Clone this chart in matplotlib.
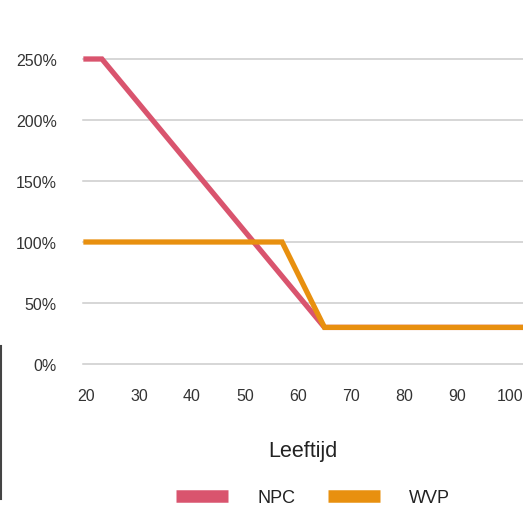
import matplotlib
matplotlib.use("Agg")
import matplotlib.pyplot as plt
from matplotlib.lines import Line2D

# data
npc_age = [20, 23, 65, 110]
npc_pct = [250, 250, 30, 30]
wvp_age = [20, 57, 65, 110]
wvp_pct = [100, 100, 30, 30]

y_ticks = [0, 50, 100, 150, 200, 250]
x_ticks = [20, 30, 40, 50, 60, 70, 80, 90, 100]

NPC_COLOR = '#D9546E'
WVP_COLOR = '#E8900F'
TEXT_COLOR = '#333333'

plt.rcParams['font.family'] = ['Liberation Sans', 'DejaVu Sans']

W, H = 523, 510
fig = plt.figure(figsize=(W / 100, H / 100), dpi=100)

# axes run past the right edge, like the cropped original
ax = fig.add_axes([86 / W, (H - 365) / H, 477 / W, 305 / H])
ax.set_xlim(20, 110)
ax.set_ylim(0, 250)

ax.plot(npc_age, npc_pct, color=NPC_COLOR, linewidth=3.8,
        solid_joinstyle='miter', clip_on=False, zorder=3)
ax.plot(wvp_age, wvp_pct, color=WVP_COLOR, linewidth=3.8,
        solid_joinstyle='miter', clip_on=False, zorder=4)

for v in y_ticks:
    ax.axhline(v, xmin=-0.007, color='#cccccc', linewidth=1.1,
               zorder=1, clip_on=False)

for s in ax.spines.values():
    s.set_visible(False)

ax.set_yticks(y_ticks)
ax.set_yticklabels([f'{v}%' for v in y_ticks])
ax.set_xticks(x_ticks)
ax.set_xticklabels([str(v) for v in x_ticks])
ax.tick_params(axis='y', length=0, pad=21, labelsize=11.5, labelcolor=TEXT_COLOR)
ax.tick_params(axis='x', length=0, pad=17, labelsize=11.5, labelcolor=TEXT_COLOR)

fig.text(303 / W, 1 - 452 / H, 'Leeftijd', ha='center', va='center',
         fontsize=15.5, color='#222222')

handles = [Line2D([], [], color=NPC_COLOR, linewidth=9, solid_capstyle='butt'),
           Line2D([], [], color=WVP_COLOR, linewidth=9, solid_capstyle='butt')]
fig.legend(handles, ['NPC', 'WVP'], loc='center', ncol=2,
           bbox_to_anchor=(313 / W, 1 - 499 / H), frameon=False,
           fontsize=13, handlelength=2.9, handletextpad=1.6,
           columnspacing=1.8, borderpad=0, labelcolor='#222222')

# dark edge artefact on the left of the original
fig.add_artist(Line2D([1 / W, 1 / W], [1 - 500 / H, 1 - 347 / H],
                      color='#444444', linewidth=1.5))

fig.savefig('out.png', dpi=100)
